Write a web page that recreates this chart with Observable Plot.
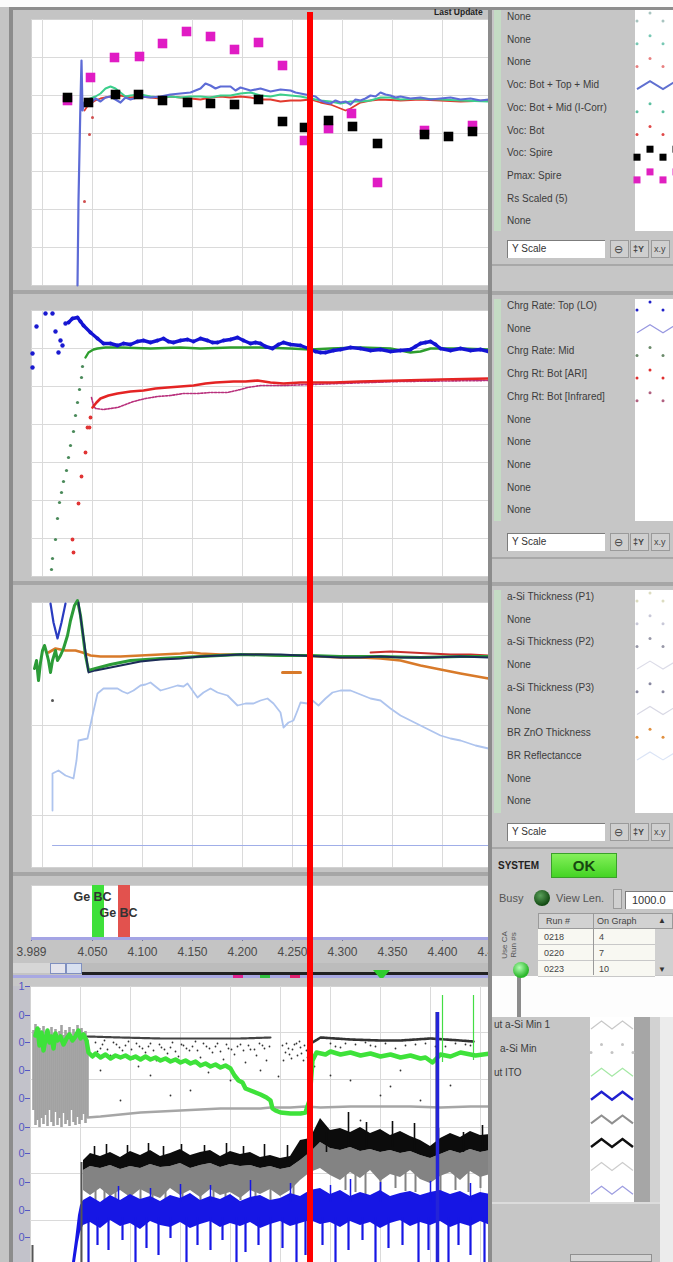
<!DOCTYPE html>
<html><head><meta charset="utf-8">
<script src="https://cdn.jsdelivr.net/npm/d3@7"></script>
<script src="https://cdn.jsdelivr.net/npm/@observablehq/plot@0.6"></script>
<style>
body{margin:0;background:#c4c4c4;}
#root{position:relative;width:673px;height:1262px;overflow:hidden;background:#c4c4c4;font-family:"Liberation Sans",Arial,sans-serif;}
.lbl{position:absolute;font-size:10px;color:#3c3c3c;white-space:nowrap;line-height:12px;}
</style></head><body><div id="root"></div><script>
// ---------------- DATA ----------------
const xDomain = [3.989, 4.446];
const xTickValues = [3.989, 4.05, 4.1, 4.15, 4.2, 4.25, 4.3, 4.35, 4.4, 4.45];
const gridX = [4.0, 4.05, 4.1, 4.15, 4.2, 4.25, 4.3, 4.35, 4.4, 4.45];
const cursorX = 4.268;

// Panel 1 (Voc / Pmax)
const p1GridY = [38, 76, 114, 152, 190, 228];
const p1Blue = [[4.035,0],[4.036,85],[4.038,185],[4.039,225],[4.040,175],[4.041,180],[4.043,185],[4.048,182],[4.053,187],[4.058,184],[4.063,188],[4.068,189],[4.073,186],[4.078,183],[4.083,188],[4.088,186],[4.098,189],[4.108,188],[4.118,189],[4.128,191],[4.138,192],[4.148,193],[4.158,197],[4.163,202],[4.168,200],[4.173,197],[4.178,199],[4.188,199],[4.193,195],[4.198,198],[4.208,195],[4.218,197],[4.228,194],[4.238,196],[4.248,195],[4.253,193],[4.258,192],[4.263,191],[4.268,190],[4.273,189],[4.278,185],[4.283,183],[4.288,182],[4.293,185],[4.298,183],[4.303,184],[4.308,181],[4.313,186],[4.318,185],[4.323,187],[4.328,190],[4.333,189],[4.338,193],[4.343,191],[4.348,190],[4.353,188],[4.358,189],[4.368,187],[4.378,188],[4.388,186],[4.398,187],[4.408,188],[4.418,186],[4.428,187],[4.438,185],[4.446,186]];
const p1Green = [[4.039,177],[4.043,185],[4.048,187],[4.053,189],[4.058,192],[4.063,197],[4.068,199],[4.073,197],[4.078,193],[4.083,189],[4.088,190],[4.098,191],[4.108,189],[4.118,188],[4.128,189],[4.138,188],[4.148,189],[4.158,189],[4.168,188],[4.178,190],[4.188,190],[4.198,192],[4.208,193],[4.218,190],[4.228,189],[4.238,191],[4.248,190],[4.258,189],[4.268,187],[4.278,185],[4.288,184],[4.298,182],[4.308,184],[4.318,184],[4.328,185],[4.338,188],[4.348,188],[4.358,186],[4.378,187],[4.398,186],[4.418,185],[4.446,184]];
const p1Red = [[4.042,175],[4.046,181],[4.053,185],[4.058,187],[4.068,189],[4.078,190],[4.088,188],[4.098,189],[4.108,188],[4.118,187],[4.128,189],[4.138,188],[4.148,187],[4.158,186],[4.168,188],[4.178,189],[4.188,188],[4.198,189],[4.208,188],[4.218,186],[4.228,186],[4.238,184],[4.248,185],[4.258,185],[4.268,186],[4.278,183],[4.288,181],[4.298,177],[4.303,175],[4.308,177],[4.318,183],[4.328,185],[4.338,186],[4.358,185],[4.378,186],[4.398,185],[4.418,184],[4.446,185]];
const p1RedDots = [[4.050,168],[4.047,151],[4.042,84]];
const p1Pmax = [[4.025,185],[4.048,208],[4.072,228],[4.097,229],[4.120,242],[4.144,254],[4.168,249],[4.192,236],[4.216,243],[4.240,220],[4.262,145],[4.286,157],[4.309,172],[4.335,103],[4.382,155],[4.430,160]];
const p1VocSpire = [[4.025,188],[4.046,183],[4.073,191],[4.096,191],[4.120,185],[4.145,183],[4.168,182],[4.192,181],[4.216,186],[4.240,164],[4.262,158],[4.286,165],[4.310,159],[4.335,142],[4.382,151],[4.406,149],[4.430,154]];

// Panel 2 (charge rates)
const p2GridY = [38, 76, 114, 152, 190, 228];
const p2BlueDots = [[3.990,209],[3.990,223],[3.994,250],[4.003,263],[4.010,263],[4.013,245],[4.016,224],[4.018,236],[4.020,231],[4.023,253]];
const p2Blue = [[4.026,254],[4.030,258],[4.035,259],[4.038,255],[4.041,251],[4.048,244],[4.055,238],[4.061,233],[4.068,233],[4.075,231],[4.081,233],[4.088,232],[4.095,235],[4.101,236],[4.108,234],[4.115,236],[4.121,238],[4.126,235],[4.131,234],[4.138,236],[4.145,237],[4.151,235],[4.158,238],[4.165,236],[4.170,234],[4.175,234],[4.181,236],[4.188,237],[4.195,239],[4.201,236],[4.208,233],[4.213,234],[4.218,233],[4.223,230],[4.230,228],[4.236,232],[4.241,234],[4.248,232],[4.258,231],[4.266,228],[4.273,225],[4.278,224],[4.283,224],[4.291,226],[4.298,227],[4.308,229],[4.318,228],[4.328,226],[4.338,227],[4.348,225],[4.358,226],[4.368,227],[4.373,230],[4.378,233],[4.383,234],[4.388,235],[4.393,232],[4.398,228],[4.408,226],[4.418,228],[4.428,226],[4.438,227],[4.446,225]];
const p2GreenDots = [[4.009,7],[4.010,18],[4.013,37],[4.015,58],[4.017,74],[4.019,84],[4.021,95],[4.024,106],[4.026,119],[4.028,131],[4.031,145],[4.033,161],[4.035,174],[4.037,187],[4.039,199],[4.040,210]];
const p2Green = [[4.043,219],[4.046,224],[4.051,227],[4.055,228],[4.063,229],[4.078,229],[4.108,228],[4.138,229],[4.158,228],[4.188,229],[4.218,229],[4.248,228],[4.268,227],[4.288,228],[4.318,229],[4.348,228],[4.358,226],[4.368,224],[4.378,225],[4.388,228],[4.418,228],[4.446,227]];
const p2RedDots = [[4.030,37],[4.031,24],[4.036,73],[4.039,100],[4.043,124],[4.045,149],[4.047,149],[4.048,159]];
const p2Red = [[4.050,169],[4.054,174],[4.058,178],[4.066,181],[4.075,183],[4.088,185],[4.101,186],[4.113,188],[4.125,189],[4.138,190],[4.151,191],[4.163,193],[4.173,194],[4.191,195],[4.203,195],[4.215,196],[4.228,194],[4.241,193],[4.258,194],[4.278,194],[4.291,194],[4.318,195],[4.358,196],[4.398,197],[4.446,198]];
const p2Infrared = [[4.049,179],[4.051,171],[4.053,168],[4.061,167],[4.075,169],[4.091,175],[4.103,178],[4.115,180],[4.128,181],[4.141,183],[4.155,183],[4.168,184],[4.185,184],[4.198,187],[4.205,189],[4.218,191],[4.241,191],[4.268,192],[4.298,193],[4.358,195],[4.446,196]];

// Panel 3 (thickness / reflectance)
const p3GridY = [52, 142, 232];
const p3BlueV = [[4.008,264],[4.011,245],[4.015,229],[4.019,245],[4.023,264]];
const p3Navy = [[4.036,265],[4.040,237],[4.046,195],[4.053,197],[4.063,199],[4.078,202],[4.098,206],[4.118,208],[4.138,209],[4.158,211],[4.178,212],[4.198,213],[4.218,213],[4.238,213],[4.258,212],[4.278,211],[4.298,210],[4.318,210],[4.338,211],[4.358,210],[4.388,210],[4.418,211],[4.446,210]];
const p3Green = [[3.992,199],[3.994,207],[3.996,187],[3.998,205],[4.000,217],[4.002,222],[4.004,215],[4.006,207],[4.008,195],[4.010,207],[4.013,217],[4.015,207],[4.018,212],[4.021,219],[4.025,232],[4.028,247],[4.032,262],[4.035,267],[4.038,252],[4.043,212],[4.046,197],[4.053,199],[4.068,203],[4.088,207],[4.118,209],[4.158,211],[4.198,213],[4.238,212],[4.268,212],[4.298,211],[4.338,211],[4.378,210],[4.418,211],[4.446,211]];
const p3Orange = [[4.006,215],[4.013,219],[4.023,217],[4.033,217],[4.040,215],[4.048,212],[4.058,211],[4.078,211],[4.098,212],[4.118,213],[4.138,214],[4.148,215],[4.158,214],[4.178,213],[4.198,213],[4.218,213],[4.238,212],[4.258,212],[4.278,211],[4.298,210],[4.318,210],[4.338,209],[4.358,207],[4.378,202],[4.398,198],[4.418,194],[4.446,189]];
const p3OrangeShort = [[4.240,195],[4.258,195]];
const p3Red = [[4.328,215],[4.348,216],[4.368,215],[4.388,214],[4.408,213],[4.428,213],[4.446,212]];
const p3Reflect = [[4.010,57],[4.010,94],[4.016,97],[4.023,92],[4.031,89],[4.034,107],[4.036,127],[4.045,129],[4.050,152],[4.055,174],[4.061,179],[4.068,179],[4.075,179],[4.080,176],[4.085,174],[4.091,177],[4.098,182],[4.103,183],[4.108,185],[4.113,181],[4.118,177],[4.125,179],[4.135,182],[4.141,181],[4.145,184],[4.150,177],[4.155,170],[4.161,175],[4.168,179],[4.175,175],[4.185,172],[4.190,167],[4.195,162],[4.203,164],[4.211,164],[4.218,167],[4.225,169],[4.231,164],[4.238,155],[4.241,140],[4.246,145],[4.251,147],[4.255,157],[4.258,165],[4.265,164],[4.270,167],[4.276,162],[4.283,169],[4.290,175],[4.298,177],[4.308,177],[4.318,173],[4.328,169],[4.338,167],[4.348,159],[4.358,152],[4.368,147],[4.378,142],[4.388,137],[4.398,132],[4.408,129],[4.418,127],[4.433,122],[4.446,119]];
const p3Dot = [[4.010,167]];
const p3Base = [[4.010,22],[4.446,22]];

// Panel 4 (markers)
const geLabelText = ["Ge BC", "Ge BC"];
const geLabelX = [4.050, 4.076];
const geLabelY = [0.79, 0.49];
const geBarStart = [4.050, 4.076];
const geBarEnd = [4.062, 4.088];
const geBarColor = ["#3ee03a", "#e2524e"];

// Bottom panel (time trace)
const btGridX = [50, 100, 150, 200, 250, 300, 350, 400, 450];
const btGridY = [42, 89, 135, 183, 230];
const btTickH = [276, 247, 220, 192, 164, 135, 109, 80, 52, 25];
const btTickLabels = ["1", "0", "0", "0", "0", "0", "0", "0", "0", "0"];
const grayBlockX = [3,5,7,9,11,13,15,17,19,21,23,25,27,29,31,33,35,37,39,41,43,45,47,49,51,53,55,57];
const grayBlockTop = [232,238,227,234,230,236,226,232,228,235,229,233,225,231,237,227,232,229,235,226,233,230,237,232,234,228,231,222];
const grayBlockBot = [152,137,142,135,144,138,147,136,152,140,136,150,137,144,135,149,138,142,136,152,140,137,145,138,142,148,139,144];
const btGreen = [[5,227],[7,234],[9,217],[11,230],[13,212],[15,224],[17,232],[19,220],[21,226],[23,214],[25,229],[27,222],[30,226],[33,218],[36,224],[39,228],[42,222],[45,226],[48,232],[50,224],[53,228],[56,222],[58,210],[62,206],[65,209],[70,205],[75,208],[80,204],[85,207],[90,205],[95,207],[100,204],[105,206],[110,203],[115,206],[120,203],[125,205],[130,202],[135,204],[140,201],[145,203],[150,200],[155,202],[160,199],[165,201],[170,197],[175,199],[180,196],[185,198],[190,195],[195,197],[200,194],[204,187],[208,182],[212,180],[215,174],[220,172],[225,170],[230,168],[236,165],[240,162],[242,154],[245,152],[250,150],[260,149],[270,149],[275,150],[279,162],[282,202],[286,210],[295,208],[300,211],[310,208],[320,210],[330,207],[340,209],[350,206],[360,208],[370,205],[380,207],[390,204],[395,205],[402,200],[406,204],[410,208],[420,206],[430,210],[445,207],[460,209]];
const btLightGray = [[57,145],[70,146],[90,148],[110,150],[130,151],[150,152],[170,153],[190,154],[210,154],[230,154],[240,155],[260,155],[275,156],[290,155],[320,156],[350,156],[380,156],[410,155],[440,156],[460,156]];
const btDenseLeft = [[57,226],[90,225],[130,224],[170,224],[210,224],[240,225]];
const btDenseRight = [[282,220],[290,225],[320,223],[350,222],[370,222],[400,224],[430,222],[443,221]];
const btScatter = [[65,220],[70,214],[74,222],[80,207],[86,218],[92,212],[98,221],[103,204],[109,216],[115,210],[120,219],[126,202],[131,215],[137,209],[142,220],[148,206],[153,217],[159,212],[165,221],[170,205],[176,216],[182,210],[187,219],[193,203],[198,214],[204,208],[210,218],[215,200],[220,213],[226,207],[232,217],[236,202],[120,187],[160,172],[90,162],[200,182],[140,167],[70,192],[230,192],[252,217],[255,210],[258,214],[261,204],[264,218],[267,207],[270,215],[273,202],[276,212],[253,202],[269,221],[300,187],[320,182],[350,167],[370,192],[330,142],[390,162],[420,177],[310,215],[340,217],[365,214],[385,218],[415,216],[435,218],
  [67,211],[72,218],[77,213],[83,220],[89,215],[95,217],[101,213],[106,219],[112,214],[118,216],[123,212],[129,218],[134,213],[140,215],[145,211],[151,218],[156,214],[162,216],[167,212],[173,219],[179,214],[185,216],[190,211],[196,218],[201,213],[207,216],[213,212],[218,217],[224,213],[229,219],[234,214],[239,216],[256,219],[259,208],[262,213],[266,219],[271,209],[274,217],[277,205],[300,219],[305,216],[315,219],[325,218],[335,220],[345,216],[355,219],[375,217],[395,219],[405,216],[425,219],[440,217],[108,196],[178,190],[248,186],[284,196],[360,176]];
const bandX = [53,60,70,80,90,100,110,120,130,140,150,160,170,180,190,200,210,220,230,240,250,260,270,280,290,300,310,320,330,340,350,360,370,380,390,400,410,420,430,440,450,460];
const blackTop = [102,109,106,110,105,111,107,112,106,109,113,107,110,112,106,111,108,110,105,107,104,106,122,124,144,132,134,130,135,129,133,127,131,126,122,116,124,129,125,131,127,128];
const blackBot = [92,96,94,97,93,96,94,98,95,96,99,94,97,99,95,98,96,97,94,96,93,95,102,110,120,114,112,115,111,113,110,112,109,111,107,104,108,112,109,113,110,112];
const grayBot = [72,67,74,66,72,65,73,68,64,74,67,72,65,73,67,70,64,72,68,73,66,72,82,90,94,87,82,90,84,92,81,88,85,92,83,79,86,90,82,91,85,88];
const blueTop = [62,66,60,67,62,68,63,66,61,67,64,69,62,66,63,68,61,65,67,62,64,69,66,72,74,68,72,66,70,67,72,66,69,71,67,70,72,68,71,66,70,68];
const blueBot = [37,40,34,42,36,39,33,41,37,35,40,34,38,41,35,39,36,40,34,38,41,36,39,42,38,40,35,41,37,40,34,39,42,36,40,37,41,35,39,36,41,37];
const blueRamp = [[42,0,0],[45,0,22],[48,20,47],[50,30,57],[53,37,62]];
const blackSpikes = [[64,100,116],[76,100,118],[97,100,117],[118,100,119],[133,100,116],[151,100,118],[174,100,117],[196,100,119],[213,100,116],[234,100,118],[257,100,117],[296,110,130],[318,115,150],[336,115,140],[362,115,141],[384,112,139],[408,112,134],[433,110,130],[452,112,137]];
const graySpikes = [[65,57,85],[85,52,85],[110,56,85],[135,50,85],[170,55,85],[195,52,85],[225,58,85],[315,72,100],[335,67,100],[365,74,100],[385,70,100],[425,72,100],[450,74,100],[74,60,85],[98,62,85],[122,58,85],[152,61,85],[183,59,85],[210,62,85],[240,57,85],[263,60,85],[325,70,100],[350,66,100],[375,71,100],[410,68,100],[438,70,100]];
const blueSpikes = [[58,0,45],[67,17,45],[78,12,45],[92,22,45],[105,0,45],[116,14,45],[128,7,45],[140,24,45],[156,0,45],[167,17,45],[180,12,45],[192,22,45],[206,0,45],[215,10,45],[228,17,45],[240,0,45],[252,14,45],[266,0,45],[275,7,45],[292,17,45],[305,0,45],[318,12,45],[332,22,45],[345,0,45],[358,14,45],[372,17,45],[388,0,45],[398,12,45],[418,0,45],[428,17,45],[440,7,45],[454,0,45]];
const blueUpSpikes = [[120,60,74],[180,60,77],[220,60,82],[300,60,77],[350,60,80],[88,60,76],[150,60,78],[260,60,79],[320,60,83],[400,60,81],[440,60,79]];
const bigBlueSpike = [[407,0,250]];
const darkSpike = [[406,120,250],[51,0,100],[2,0,17]];
const greenSpikes = [[412,200,267],[443,202,267]];

// Legends
const legend1 = ["None","None","None","Voc: Bot + Top + Mid","Voc: Bot + Mid (I-Corr)","Voc: Bot","Voc: Spire","Pmax: Spire","Rs Scaled (5)","None"];
const legend2 = ["Chrg Rate: Top (LO)","None","Chrg Rate: Mid","Chrg Rt: Bot [ARI]","Chrg Rt: Bot [Infrared]","None","None","None","None","None"];
const legend3 = ["a-Si Thickness (P1)","None","a-Si Thickness (P2)","None","a-Si Thickness (P3)","None","BR ZnO Thickness","BR Reflectancce","None","None"];
const legend4 = ["ut a-Si Min 1","a-Si Min","ut ITO"];
const swatch1 = [["dot","#a8c4c0"],["dot","#78c8b4"],["dot","#e88080"],["line","#6070d0",2],["dot","#5cc0a0"],["dot","#e04848"],["sq","#000000"],["sq","#e020c0"],null,null];
const swatch2 = [["dot","#2020c8"],["line","#9898e0",1.2],["dot","#6a8a6a"],["dot","#e03030"],["dot","#b06080"],null,null,null,null,null];
const swatch3 = [["dot","#dcdcc0"],["dot","#c8c8d8"],["dot","#9898a8"],["line","#dcdce8",1.2],["dot","#8888a0"],["line","#d8d8e4",1.2],["dot","#e09040"],["line","#dbe4f6",1.2],null,null];
const swatch4 = [["line","#c8c8c8",1.2],["dot","#c4c4c4"],["line","#a4e8a4",1.2],["line","#2020d0",2.5],["line","#909090",2],["line","#101010",2.5],["line","#cccccc",1.2],["line","#9c9ce0",1.2]];
const runNumbers = ["0218","0220","0223"];
const runOnGraph = ["4","7","10"];

// ---------------- HELPERS ----------------
const root = document.getElementById("root");
function div(x,y,w,h,css){const d=document.createElement("div");d.style.cssText=`position:absolute;left:${x}px;top:${y}px;width:${w}px;height:${h}px;`+(css||"");root.appendChild(d);return d;}
function txt(x,y,s,css){const d=document.createElement("div");d.className="lbl";d.textContent=s;d.style.left=x+"px";d.style.top=(y-6)+"px";if(css)d.style.cssText+=css;root.appendChild(d);return d;}
function place(svg,x,y){svg.style.position="absolute";svg.style.left=x+"px";svg.style.top=y+"px";svg.style.maxWidth="none";root.appendChild(svg);return svg;}
const pstyle = {background:"transparent",overflow:"visible",fontFamily:"Liberation Sans, Arial, sans-serif"};
const gridC = "#dadada";
const rowsOf = (xs, a, b) => xs.map((x,i)=>[x,a[i],b[i]]);
const seg = {x:d=>d[0],y1:d=>d[1],y2:d=>d[2]};

// ---------------- LEFT FRAME ----------------
div(0,0,673,7,"background:#fbfbfb;");
div(9,7,664,3,"background:#8c8c8c;");
div(9,7,4,1255,"background:#8c8c8c;");
div(13,290,475,4,"background:#a6a6a6;");
div(13,581,475,4,"background:#a6a6a6;");
div(13,872,475,4,"background:#a6a6a6;");
txt(434, 14, "Last Update", "font-weight:bold;font-size:8.5px;line-height:9px;color:#222;");

// ---------------- PANEL 1 ----------------
const p1 = Plot.plot({width:457,height:266,margin:0,style:pstyle,
  x:{domain:xDomain,axis:null}, y:{domain:[0,266],axis:null},
  marks:[
    Plot.frame({fill:"white",stroke:"#d2d2d2"}),
    Plot.ruleX(gridX,{stroke:gridC}),
    Plot.ruleY(p1GridY,{stroke:gridC}),
    Plot.dot(p1RedDots,{r:1.5,fill:"#d05050"}),
    Plot.line(p1Red,{stroke:"#e23a2e",strokeWidth:1.8}),
    Plot.line(p1Green,{stroke:"#3ccf8c",strokeWidth:2}),
    Plot.line(p1Blue,{stroke:"#5d6bd6",strokeWidth:2.2}),
    Plot.dot(p1Pmax,{symbol:"square",r:5.4,fill:"#e01cc4"}),
    Plot.dot(p1VocSpire,{symbol:"square",r:5.4,fill:"#000"})
  ]});
place(p1,31,19);
const sx = p1.scale("x");

// ---------------- PANEL 2 ----------------
const p2 = Plot.plot({width:457,height:266,margin:0,style:pstyle,
  x:{domain:xDomain,axis:null}, y:{domain:[0,266],axis:null},
  marks:[
    Plot.frame({fill:"white",stroke:"#d2d2d2"}),
    Plot.ruleX(gridX,{stroke:gridC}),
    Plot.ruleY(p2GridY,{stroke:gridC}),
    Plot.dot(p2GreenDots,{r:1.6,fill:"#4a8a5a"}),
    Plot.dot(p2RedDots,{r:1.9,fill:"#e03434"}),
    Plot.line(p2Infrared,{stroke:"#b8307c",strokeWidth:1.6,strokeDasharray:"2,1.5"}),
    Plot.line(p2Red,{stroke:"#e42424",strokeWidth:2.6}),
    Plot.line(p2Green,{stroke:"#2e9e2e",strokeWidth:2.4}),
    Plot.dot(p2BlueDots,{r:2.2,fill:"#1a1ad0"}),
    Plot.line(p2Blue,{stroke:"#1414d4",strokeWidth:3.4}),
    Plot.dot(p2Blue,{r:2,fill:"#1414d4"})
  ]});
place(p2,31,310);

// ---------------- PANEL 3 ----------------
const p3 = Plot.plot({width:457,height:265,margin:0,style:pstyle,
  x:{domain:xDomain,axis:null}, y:{domain:[0,265],axis:null},
  marks:[
    Plot.frame({fill:"white",stroke:"#d2d2d2"}),
    Plot.ruleX(gridX,{stroke:gridC}),
    Plot.ruleY(p3GridY,{stroke:gridC}),
    Plot.line(p3Base,{stroke:"#a0aee8",strokeWidth:1}),
    Plot.line(p3Reflect,{stroke:"#aec4ee",strokeWidth:1.8}),
    Plot.dot(p3Dot,{r:1.5,fill:"#555"}),
    Plot.line(p3BlueV,{stroke:"#2a3cc0",strokeWidth:2.2}),
    Plot.line(p3Orange,{stroke:"#d87a2a",strokeWidth:2.6}),
    Plot.line(p3OrangeShort,{stroke:"#d87a2a",strokeWidth:3}),
    Plot.line(p3Red,{stroke:"#c8302c",strokeWidth:1.8}),
    Plot.line(p3Green,{stroke:"#2c9c38",strokeWidth:3}),
    Plot.line(p3Navy,{stroke:"#1c2c58",strokeWidth:1.8})
  ]});
place(p3,31,602);

// ---------------- PANEL 4 (markers + axis) ----------------
const geBars = geBarStart.map((s,i)=>({x1:s,x2:geBarEnd[i],c:geBarColor[i]}));
const geLabels = geLabelText.map((t,i)=>({t,x:geLabelX[i],y:geLabelY[i]}));
const p4 = Plot.plot({width:488,height:78,marginLeft:31,marginRight:0,marginTop:0,marginBottom:25,style:pstyle,
  x:{domain:xDomain,axis:null}, y:{domain:[0,1],axis:null},
  marks:[
    Plot.frame({fill:"white",stroke:"#d2d2d2"}),
    Plot.rect(geBars,{x1:"x1",x2:"x2",y1:0,y2:1,fill:"c"}),
    Plot.text(geLabels,{x:"x",y:"y",text:"t",fontWeight:"bold",fontSize:12.5,fill:"#333"}),
    Plot.axisX(xTickValues,{tickFormat:d3.format(".3f"),tickSize:3,tickPadding:6,fontSize:12,color:"#4a4a4a",stroke:"#7070a0"})
  ]});
place(p4,0,885);
div(31,937,457,3,"background:#a4a4e4;");

// scroll strip
div(13,963,37,10,"background:#d6d6d6;");
div(50,963,16,11,"background:#e4e4ec;border:1px solid #8090c0;box-sizing:border-box;");
div(66,963,16,11,"background:#d8e0f0;border:1px solid #8090c0;box-sizing:border-box;");
div(82,963,406,9,"background:#bcbcbc;");
div(82,972,406,3,"background:#222;");
div(13,975,477,3,"background:#a8a8e2;");
const tri = div(373,966,17,10,"");
tri.innerHTML='<svg width="17" height="10"><path d="M0 0 L17 0 L8.5 10 Z" fill="#2ecc2e"/></svg>';
div(233,975,10,3,"background:#e02090;");
div(260,975,10,3,"background:#30c040;");
div(290,975,10,3,"background:#e02070;");

// ---------------- BOTTOM PANEL ----------------
div(13,978,477,8,"background:#c8c8c8;");
div(13,986,17,276,"background:#c2c2ca;");
const labelMap = new Map(btTickH.map((h,i)=>[h,btTickLabels[i]]));
const pb = Plot.plot({width:477,height:276,marginLeft:17,marginRight:0,marginTop:0,marginBottom:0,style:pstyle,
  x:{domain:[0,460],axis:null}, y:{domain:[0,276],axis:null},
  marks:[
    Plot.frame({fill:"white",stroke:"#d2d2d2"}),
    Plot.ruleX(btGridX,{stroke:gridC}),
    Plot.ruleY(btGridY,{stroke:gridC}),
    Plot.axisY(btTickH,{anchor:"left",tickSize:5,tickPadding:1,tickFormat:d=>labelMap.get(d),fontSize:11,color:"#5656c4",stroke:"#5656c4"}),
    Plot.ruleX(rowsOf(grayBlockX,grayBlockBot,grayBlockTop),{...seg,stroke:"#a2a2a2",strokeWidth:2.6}),
    Plot.line(btLightGray,{stroke:"#a6a6a6",strokeWidth:2.4}),
    Plot.dot(btScatter,{r:0.9,fill:"#333"}),
    Plot.line(btDenseLeft,{stroke:"#444",strokeWidth:2.2,strokeDasharray:"1,1"}),
    Plot.line(btDenseRight,{stroke:"#333",strokeWidth:2.6,strokeDasharray:"2,1"}),
    Plot.line(btGreen,{stroke:"#3ee23a",strokeWidth:4.5}),
    Plot.areaY(rowsOf(bandX,grayBot,blackBot),{...seg,fill:"#838383"}),
    Plot.ruleX(graySpikes,{...seg,stroke:"#838383",strokeWidth:2}),
    Plot.areaY(rowsOf(bandX,blackBot,blackTop),{...seg,fill:"#0c0c0c"}),
    Plot.ruleX(blackSpikes,{...seg,stroke:"#0c0c0c",strokeWidth:1.6}),
    Plot.areaY(rowsOf(bandX,blueBot,blueTop),{...seg,fill:"#1616e4"}),
    Plot.areaY(blueRamp,{...seg,fill:"#1616e4"}),
    Plot.ruleX(blueSpikes,{...seg,stroke:"#1616e4",strokeWidth:2.2}),
    Plot.ruleX(blueUpSpikes,{...seg,stroke:"#1616e4",strokeWidth:1.5}),
    Plot.ruleX(darkSpike,{...seg,stroke:"#555",strokeWidth:2}),
    Plot.ruleX(bigBlueSpike,{...seg,stroke:"#2424d8",strokeWidth:3.5}),
    Plot.ruleX(greenSpikes,{...seg,stroke:"#44dd44",strokeWidth:1.2})
  ]});
place(pb,13,986);

// ---------------- RIGHT SIDE ----------------
div(488,7,4,1255,"background:#8c8c8c;");
div(492,10,181,966,"background:#c6c6c6;");
div(492,976,181,41,"background:#fdfdfd;");
div(517,976,4,41,"background:#8c8c8c;");
div(492,1017,168,245,"background:#c6c6c6;");
div(660,1017,13,245,"background:#ececec;");
div(634,1017,16,185,"background:#a6a6a6;");
div(650,1017,10,185,"background:#d2d2d2;");
div(492,1202,168,2,"background:#dcdcdc;");
div(570,1254,82,8,"background:#d4d4d4;border:1px solid #909090;box-sizing:border-box;");

function legendBlock(top, labels, yScaleTop, whiteBottom){
  div(494, top, 7, whiteBottom-top, "background:#c4dcc4;");
  div(635, top, 38, whiteBottom-top, "background:#fff;");
  labels.forEach((s,i)=>txt(507, top+7+i*22.7, s));
  div(507, yScaleTop, 98, 18, "background:#fff;border-top:1px solid #7c7c7c;border-left:1px solid #7c7c7c;box-sizing:border-box;");
  txt(512, yScaleTop+9, "Y Scale", "font-size:10px;color:#333;");
  [610,630,651].forEach(x=>{div(x, yScaleTop, 19, 18, "background:#cfcfcf;border:1px solid #9a9a9a;box-sizing:border-box;");});
  txt(614, yScaleTop+9, "\u2296", "font-size:11px;color:#444;");
  txt(633, yScaleTop+9, "\u2021Y", "font-size:9px;color:#444;font-weight:bold;");
  txt(654, yScaleTop+9, "x.y", "font-size:9px;color:#444;");
  div(492, yScaleTop+24, 181, 2, "background:#a8a8a8;");
}
legendBlock(10, legend1, 240, 231);
legendBlock(299, legend2, 533, 521);
legendBlock(590, legend3, 823, 813);
div(492,291,181,4,"background:#a6a6a6;");
div(492,582,181,4,"background:#a6a6a6;");

const sw = d3.create("svg").attr("width",673).attr("height",1262).style("position","absolute").style("left","0px").style("top","0px");
function drawSw(list, x0, y0, step, w){
  list.forEach((s,i)=>{
    if(!s) return;
    const y = y0 + i*step;
    const pts = [0,0.25,0.5,0.75,1].map((f,k)=>[x0+f*w, y+(k%2?-4:4)]);
    if(s[0]==="line") sw.append("polyline").attr("points",pts.map(p=>p.join(",")).join(" ")).attr("fill","none").attr("stroke",s[1]).attr("stroke-width",s[2]||1.5);
    else if(s[0]==="dot") pts.forEach(p=>sw.append("circle").attr("cx",p[0]).attr("cy",p[1]).attr("r",1.5).attr("fill",s[1]));
    else pts.forEach(p=>sw.append("rect").attr("x",p[0]-3.5).attr("y",p[1]-3.5).attr("width",7).attr("height",7).attr("fill",s[1]));
  });
}
drawSw(swatch1, 637, 17, 22.7, 52);
drawSw(swatch2, 637, 306, 22.7, 52);
drawSw(swatch3, 637, 597, 22.7, 52);
div(590,1017,44,185,"background:#fff;");
drawSw(swatch4, 591, 1025, 23.6, 42);
legend4.forEach((s,i)=>txt(494+(i===1?6:0), 1025+i*24, s));
root.appendChild(sw.node());

// system area
txt(498, 866, "SYSTEM", "font-weight:bold;font-size:10px;color:#222;");
const ok = div(551,853,66,25,"background:linear-gradient(#84f05a,#44d424);border:1px solid #3aa02a;box-sizing:border-box;text-align:center;font:bold 15px Liberation Sans,Arial;color:#174810;line-height:23px;");
ok.textContent = "OK";
txt(499, 898, "Busy", "font-size:11px;color:#555;");
div(534,890,16,16,"border-radius:50%;background:radial-gradient(circle at 40% 35%,#5aa05a,#124a12 70%);");
txt(556, 898, "View Len.", "font-size:11px;color:#555;");
div(613,889,9,20,"background:#d0d0d0;border:1px solid #9a9a9a;box-sizing:border-box;");
div(625,891,48,18,"background:#fff;border-top:1px solid #7c7c7c;border-left:1px solid #7c7c7c;box-sizing:border-box;");
txt(632, 900, "1000.0", "font-size:11px;color:#333;");
const rot = div(496,918,26,48,"");
rot.innerHTML='<div style="position:absolute;left:-12px;top:18px;width:50px;transform:rotate(-90deg);font-size:8px;line-height:9px;color:#555;text-align:center">Use CA<br>Run #s</div>';
div(513,962,16,16,"border-radius:50%;background:radial-gradient(circle at 40% 35%,#b4ffb4,#2cb82c 65%);");
div(538,913,135,16,"background:#d2d2d2;border:1px solid #9a9a9a;box-sizing:border-box;");
txt(546, 921, "Run #", "font-size:9px;color:#444;");
txt(597, 921, "On Graph", "font-size:9px;color:#444;");
txt(658, 921, "\u25B2", "font-size:8px;color:#333;");
runNumbers.forEach((r,i)=>{
  div(538,929+i*16,117,16,"background:#f8f8f2;border-bottom:1px solid #c8c8c8;box-sizing:border-box;");
  txt(544, 937+i*16, r, "font-size:9px;color:#444;");
  txt(599, 937+i*16, runOnGraph[i], "font-size:9px;color:#444;");
});
div(593,913,1,62,"background:#9a9a9a;");
div(655,929,18,46,"background:#d0d0d0;");
txt(658, 970, "\u25BC", "font-size:8px;color:#333;");

// cursor
const cx = 31 + sx.apply(cursorX);
div(cx-3, 12, 6, 1250, "background:#ff0000;");
</script></body></html>
